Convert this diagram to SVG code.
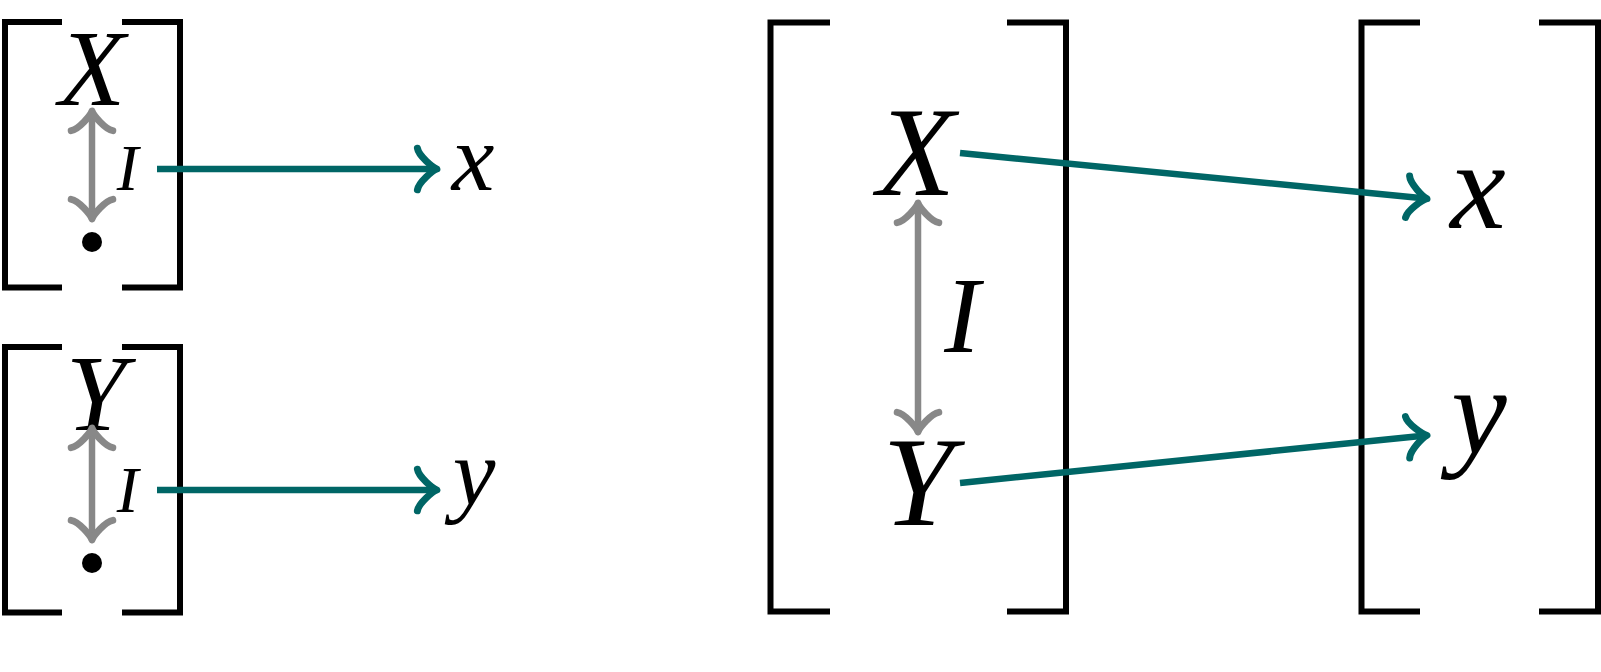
<svg xmlns="http://www.w3.org/2000/svg" width="1601" height="672" viewBox="0 0 1601 672">
<style>
.br{fill:none;stroke:#000;stroke-width:6;stroke-linejoin:miter;stroke-linecap:butt}
.tl{fill:none;stroke:#006666;stroke-width:6.5;stroke-linecap:butt}
.gl{fill:none;stroke:#888888;stroke-width:6.5;stroke-linecap:butt}
.m{font-family:"Liberation Serif","DejaVu Serif",serif;font-style:italic;fill:#000;text-anchor:middle}
</style>
<defs>
<marker id="toT" markerUnits="userSpaceOnUse" orient="auto-start-reverse" overflow="visible" markerWidth="1" markerHeight="1" refX="0" refY="0">
<path d="M-15.6 20.8 C-14.3 13 0 1.3 3.9 0 C0 -1.3 -14.3 -13 -15.6 -20.8" fill="none" stroke="#006666" stroke-width="7" stroke-linecap="round" stroke-linejoin="round"/>
</marker>
<marker id="toG" markerUnits="userSpaceOnUse" orient="auto-start-reverse" overflow="visible" markerWidth="1" markerHeight="1" refX="0" refY="0">
<path d="M-15.6 20.8 C-14.3 13 0 1.3 3.9 0 C0 -1.3 -14.3 -13 -15.6 -20.8" fill="none" stroke="#888888" stroke-width="7" stroke-linecap="round" stroke-linejoin="round"/>
</marker>
</defs>
<g id="brackets">
<path class="br" d="M62 22 H5 V287.5 H62 M122 22 H180 V287.5 H122"/>
<path class="br" d="M62 347 H5 V612.5 H62 M122 347 H180 V612.5 H122"/>
<path class="br" d="M830 22.5 H770.5 V611.5 H830 M1007 22.5 H1066 V611.5 H1007"/>
<path class="br" d="M1420 22.5 H1361.5 V611.5 H1420 M1539 22.5 H1598 V611.5 H1539"/>
</g>
<g id="node-X-small"><text class="m" x="92" y="105" font-size="109">X</text></g>
<g id="node-dot-top"><circle cx="92" cy="242" r="10" fill="#000"/></g>
<g id="node-x-small"><text class="m" x="473" y="190" font-size="96">x</text></g>
<g id="node-Y-small"><text class="m" x="96" y="430" font-size="109">Y</text></g>
<g id="node-dot-bottom"><circle cx="92" cy="563" r="10" fill="#000"/></g>
<g id="node-y-small"><text class="m" x="474" y="505" font-size="96">y</text></g>
<g id="node-X-big"><text class="m" x="916" y="195" font-size="128">X</text></g>
<g id="node-Y-big"><text class="m" x="918" y="525" font-size="128">Y</text></g>
<g id="node-x-big"><text class="m" x="1478" y="228" font-size="125">x</text></g>
<g id="node-y-big"><text class="m" x="1479" y="453" font-size="125">y</text></g>
<g id="connectors">
<line class="gl" x1="92" y1="115" x2="92" y2="215" marker-start="url(#toG)" marker-end="url(#toG)"/>
<text class="m" x="127.5" y="190" font-size="65">I</text>
<line class="tl" x1="157" y1="169" x2="433" y2="169" marker-end="url(#toT)"/>
<line class="gl" x1="92" y1="432" x2="92" y2="536" marker-start="url(#toG)" marker-end="url(#toG)"/>
<text class="m" x="127.5" y="512" font-size="65">I</text>
<line class="tl" x1="157" y1="490" x2="433" y2="490" marker-end="url(#toT)"/>
<line class="gl" x1="918" y1="207" x2="918" y2="428" marker-start="url(#toG)" marker-end="url(#toG)"/>
<text class="m" x="962" y="352" font-size="107">I</text>
<line class="tl" x1="960" y1="153" x2="1423.1" y2="198.3" marker-end="url(#toT)"/>
<line class="tl" x1="960" y1="483" x2="1423.1" y2="435.7" marker-end="url(#toT)"/>
</g>
</svg>
